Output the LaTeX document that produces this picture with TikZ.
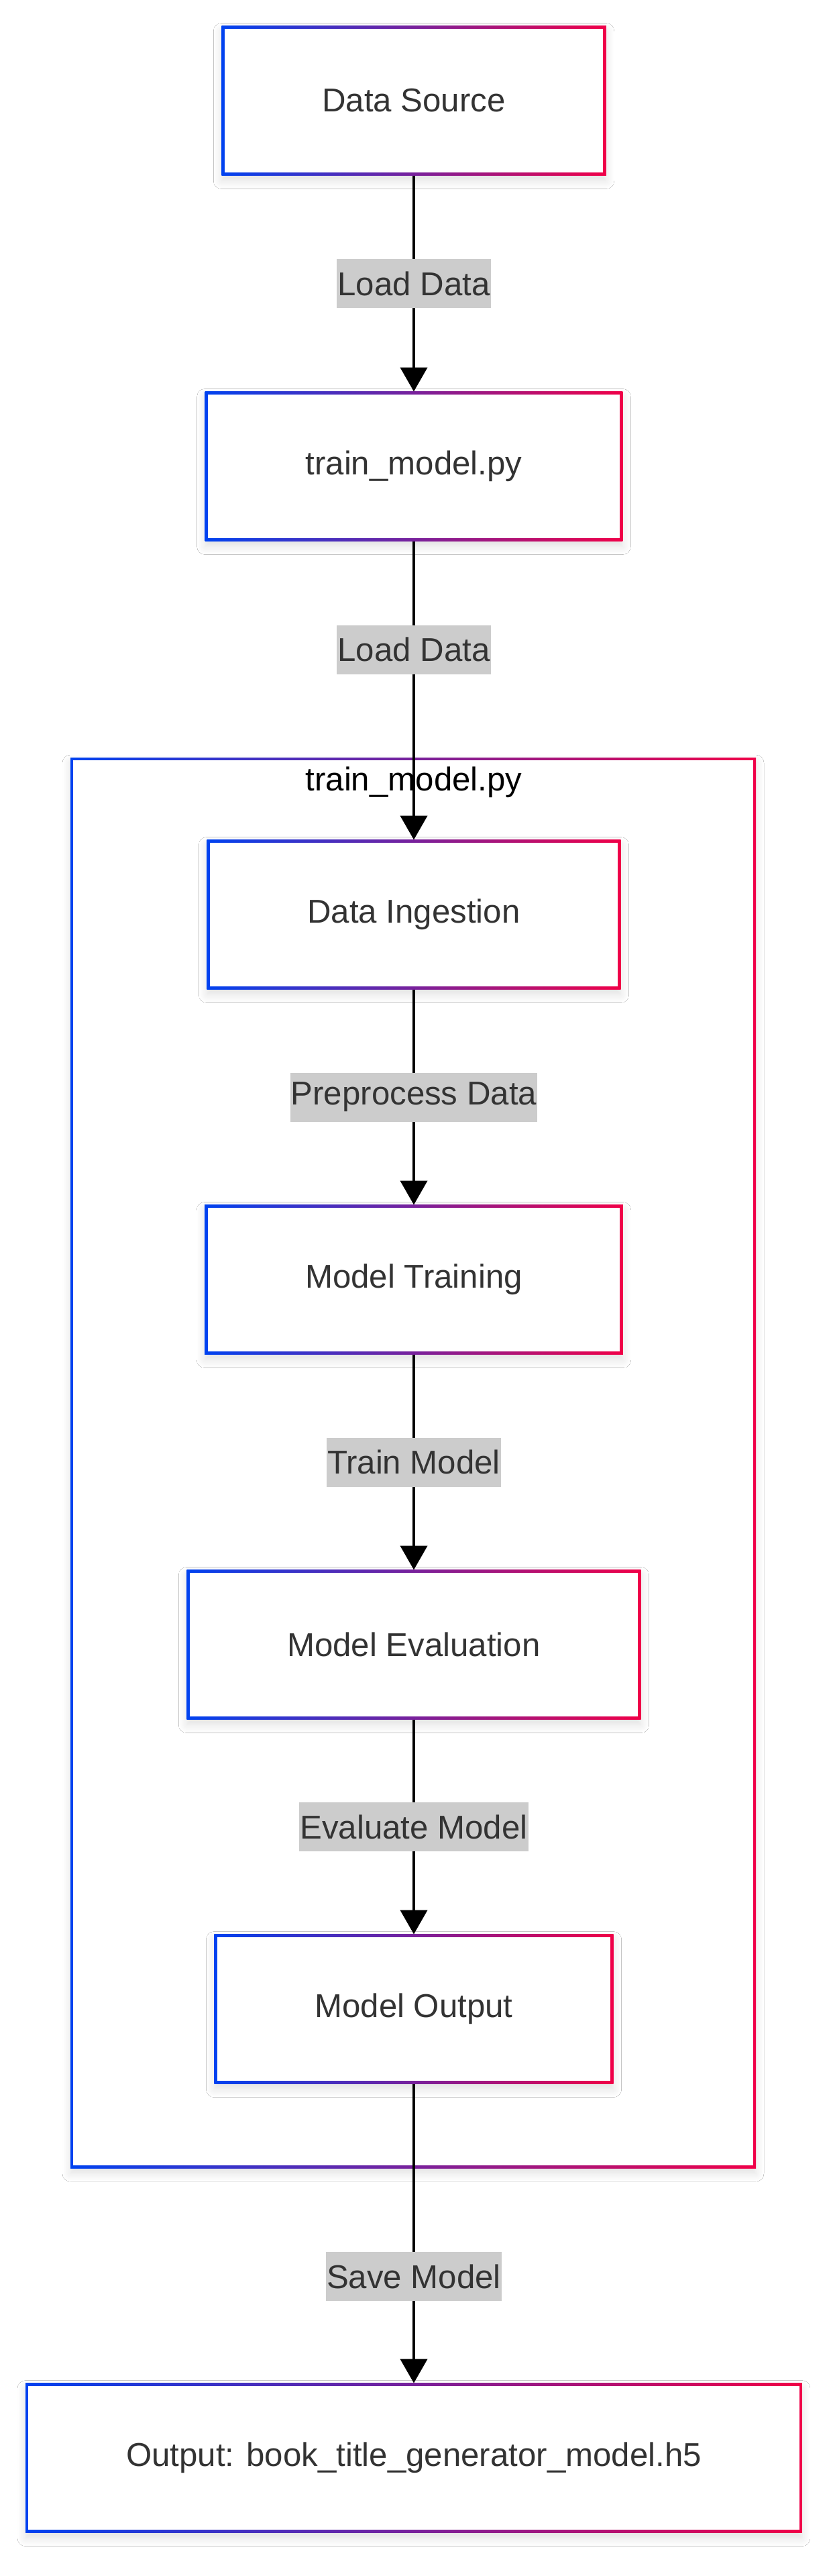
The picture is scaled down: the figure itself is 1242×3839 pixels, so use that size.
\documentclass[tikz,border=0pt]{standalone}
\usepackage{fontspec}
\setmainfont{Liberation Sans}
\usepackage{tikz}
\usetikzlibrary{arrows.meta,shadows.blur}
\definecolor{gradblue}{RGB}{0,66,240}
\definecolor{gradred}{RGB}{240,0,72}
\definecolor{textgray}{RGB}{51,51,51}
\definecolor{labelgray}{RGB}{204,204,204}
\def\boxfont{\fontsize{24.6pt}{29.5pt}\selectfont}

\tikzset{
  gradframe/.style={fill=white, outer sep=0pt,
    blur shadow={shadow xshift=0pt, shadow yshift=-4pt, shadow blur radius=6pt, shadow blur steps=8, shadow opacity=12},
    path picture={
      \shade[left color=gradblue, right color=gradred] (path picture bounding box.south west) rectangle (path picture bounding box.north east);
      \fill[white] ([shift={(2.2pt,2.2pt)}]path picture bounding box.south west) rectangle ([shift={(-2.2pt,-2.2pt)}]path picture bounding box.north east);
    }},
  stage/.style={gradframe, rectangle, minimum height=111.5pt, inner xsep=75pt, inner ysep=0pt, text=textgray, font=\boxfont},
  cluster/.style={gradframe, rectangle, minimum width=511pt, minimum height=1051pt, inner sep=0pt},
  edgelabel/.style={fill=labelgray, text=textgray, font=\boxfont, inner xsep=0.5pt, inner ysep=0pt, minimum height=36.5pt},
  flow/.style={line width=2.2pt, -{Triangle[width=20pt,length=18pt]}},
}

\begin{document}
\begin{tikzpicture}[x=0.5pt,y=-0.5pt]
	%%%%% START %%%%%
	\fill[white] (0,0) rectangle (1242,3839);
	\useasboundingbox (0,0) rectangle (1242,3839);
	
	\node[cluster] (trainbox) at (616,2180) {};
	\node[font=\boxfont, text=black] (traintitle) at (617,1166) {train\_model.py};
	
	\node[stage] (source) at (617,150) {Data Source};
	\node[stage] (script) at (617,695) {train\_model.py};
	
	\node[stage] (ingest) at (617,1363) {Data Ingestion};
	\node[stage] (training) at (617,1907) {Model Training};
	\node[stage] (evaluation) at (617,2451) {Model Evaluation};
	\node[stage] (modelout) at (617,2994) {Model Output};
	
	\node[stage] (savefile) at (617,3663) {Output: book\_title\_generator\_model.h5};
	
	\draw[flow] (source) -- node[edgelabel] {Load Data} (script);
	\draw[flow] (script) -- node[edgelabel, pos=0.363] {Load Data} (ingest);
	\draw[flow] (ingest) -- node[edgelabel] {Preprocess Data} (training);
	\draw[flow] (training) -- node[edgelabel] {Train Model} (evaluation);
	\draw[flow] (evaluation) -- node[edgelabel] {Evaluate Model} (modelout);
	\draw[flow] (modelout) -- node[edgelabel, pos=0.644] {Save Model} (savefile);
	%%%%% END %%%%%
\end{tikzpicture}
\end{document}
